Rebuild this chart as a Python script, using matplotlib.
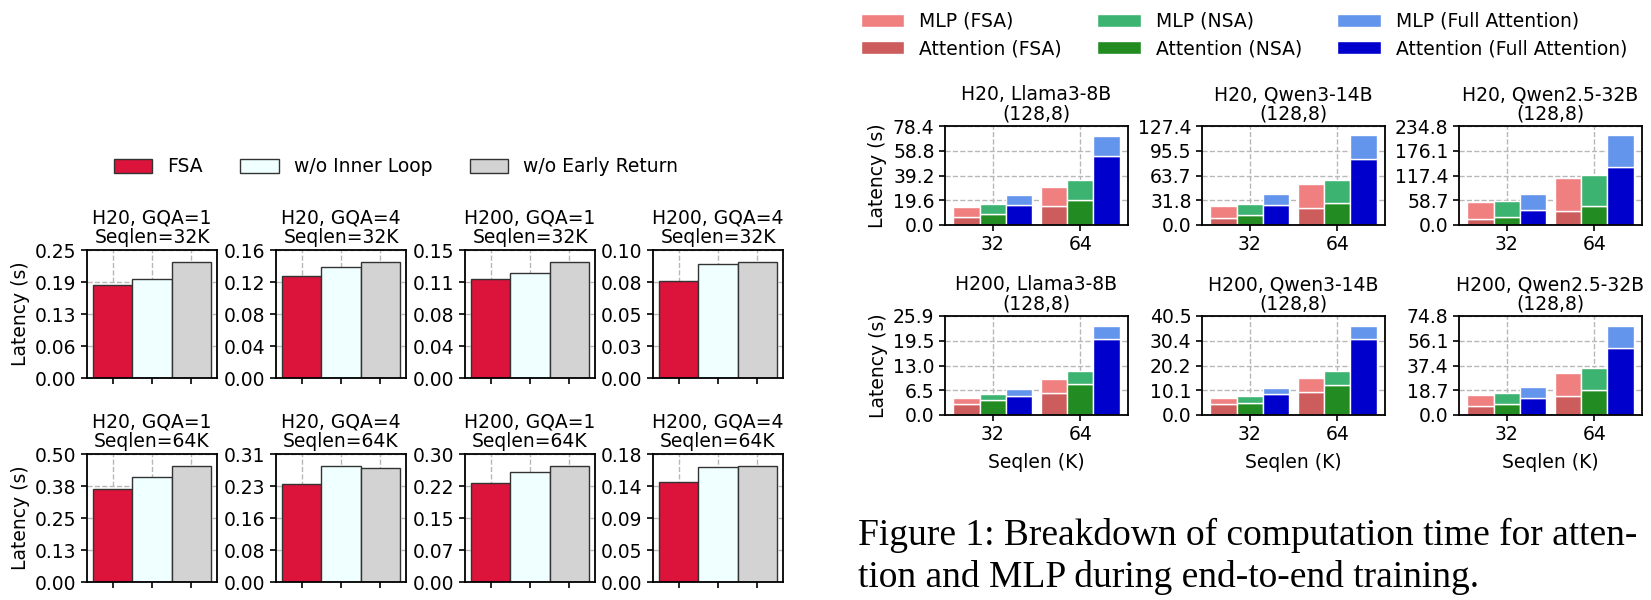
import numpy as np
import matplotlib
matplotlib.use("Agg")
import matplotlib.pyplot as plt
from matplotlib.patches import Patch

plt.rcParams["font.family"] = ["DejaVu Sans"]
plt.rcParams["axes.linewidth"] = 1.3

FS = 13.5

# ---------------- left panel: ablation (latency in s) ----------------
abl_labels = ["FSA", "w/o Inner Loop", "w/o Early Return"]
abl_colors = ["#DC143C", "#F0FFFF", "#D3D3D3"]
abl_titles = ["H20, GQA=1\nSeqlen=32K", "H20, GQA=4\nSeqlen=32K",
              "H200, GQA=1\nSeqlen=32K", "H200, GQA=4\nSeqlen=32K",
              "H20, GQA=1\nSeqlen=64K", "H20, GQA=4\nSeqlen=64K",
              "H200, GQA=1\nSeqlen=64K", "H200, GQA=4\nSeqlen=64K"]
abl_fsa = [0.183, 0.128, 0.1177, 0.0765, 0.365, 0.239, 0.230, 0.1413]
abl_inner = [0.194, 0.1396, 0.1248, 0.0896, 0.410, 0.283, 0.2545, 0.1635]
abl_early = [0.228, 0.146, 0.138, 0.0915, 0.456, 0.278, 0.270, 0.165]

# ---------------- right panel: end-to-end breakdown ----------------
e2e_titles = ["H20, Llama3-8B\n(128,8)", "H20, Qwen3-14B\n(128,8)",
              "H20, Qwen2.5-32B\n(128,8)", "H200, Llama3-8B\n(128,8)",
              "H200, Qwen3-14B\n(128,8)", "H200, Qwen2.5-32B\n(128,8)"]
seqlens = ["32", "64"]
methods = ["FSA", "NSA", "Full Attention"]
mlp_colors = ["#F08080", "#3CB371", "#6495ED"]
attn_colors = ["#CD5C5C", "#228B22", "#0000CD"]
# per subplot, per method: [32K, 64K]
attn_fsa = [[6.3, 14.7], [9.0, 22.2], [13.4, 33.9], [2.85, 5.8], [4.3, 9.6], [6.5, 14.7]]
attn_nsa = [[8.7, 19.7], [12.4, 28.2], [19.7, 44.1], [3.8, 8.2], [5.0, 12.1], [8.0, 18.95]]
attn_full = [[16.0, 55.0], [25.6, 85.1], [36.2, 137.9], [5.0, 19.9], [8.4, 31.0], [13.0, 50.4]]
mlp_fsa = [[7.6, 15.6], [15.8, 30.4], [40.2, 77.2], [1.7, 3.55], [2.55, 5.5], [8.5, 17.2]]
mlp_nsa = [[7.6, 16.1], [15.0, 29.9], [37.8, 74.9], [1.65, 3.45], [2.85, 5.7], [8.5, 16.75]]
mlp_full = [[7.9, 15.8], [14.6, 30.3], [37.9, 74.8], [1.7, 3.4], [2.55, 5.4], [8.4, 16.9]]
e2e_top = [78.4, 127.38, 234.8, 25.94, 40.48, 74.8]

W, H = 1651, 600
fig = plt.figure(figsize=(W / 100, H / 100), dpi=100)


def px_axes(x0, ytop, w, h):
    return fig.add_axes([x0 / W, 1 - (ytop + h) / H, w / W, h / H])


def style_grid(ax):
    ax.set_axisbelow(True)
    ax.grid(True, linestyle="--", color="#b8b8b8", linewidth=1.0)


# left panel
col_x = [87, 276, 465, 653]
row_y = [250, 454]
for i in range(8):
    ax = px_axes(col_x[i % 4], row_y[i // 4], 130, 128)
    vals = [abl_fsa[i], abl_inner[i], abl_early[i]]
    ax.bar(np.arange(3), vals, width=1.0, color=abl_colors,
           edgecolor="#333333", linewidth=1.0)
    top = max(vals) * 1.1
    ax.set_ylim(0, top)
    ticks = np.linspace(0, top, 5)
    ax.set_yticks(ticks)
    ax.set_yticklabels(["%.2f" % t for t in ticks])
    ax.set_xticks(np.arange(3))
    ax.set_xticklabels([])
    ax.tick_params(labelsize=FS, length=4, width=1.2)
    style_grid(ax)
    ax.set_title(abl_titles[i], fontsize=FS, linespacing=1.05, pad=5)
    if i % 4 == 0:
        ax.set_ylabel("Latency (s)", fontsize=FS)

handles = [Patch(facecolor=c, edgecolor="#333333", label=l)
           for c, l in zip(abl_colors, abl_labels)]
fig.legend(handles=handles, loc="center", bbox_to_anchor=(396 / W, 1 - 167 / H),
           ncol=3, frameon=False, fontsize=FS, handlelength=2.05,
           handletextpad=0.8, columnspacing=2.0)

# right panel
rcol_x = [945, 1202, 1459]
rrow_y = [126, 316]
attn_all = [attn_fsa, attn_nsa, attn_full]
mlp_all = [mlp_fsa, mlp_nsa, mlp_full]
x = np.arange(len(seqlens))
bw = 0.3
for i in range(6):
    ax = px_axes(rcol_x[i % 3], rrow_y[i // 3], 183, 99)
    for m in range(3):
        a = attn_all[m][i]
        b = mlp_all[m][i]
        pos = x + (m - 1) * bw
        ax.bar(pos, a, width=bw, color=attn_colors[m], edgecolor="white",
               linewidth=1.0)
        ax.bar(pos, b, bottom=a, width=bw, color=mlp_colors[m],
               edgecolor="white", linewidth=1.0)
    top = e2e_top[i]
    ax.set_ylim(0, top)
    ticks = np.linspace(0, top, 5)
    ax.set_yticks(ticks)
    ax.set_yticklabels(["%.1f" % t for t in ticks])
    ax.set_xticks(x)
    ax.set_xticklabels(seqlens)
    ax.tick_params(labelsize=FS, length=4, width=1.2)
    style_grid(ax)
    ax.set_title(e2e_titles[i], fontsize=FS, linespacing=1.0, pad=5)
    if i % 3 == 0:
        ax.set_ylabel("Latency (s)", fontsize=FS)
    if i >= 3:
        ax.set_xlabel("Seqlen (K)", fontsize=FS, labelpad=6)

rhandles = []
for m in range(3):
    rhandles.append(Patch(facecolor=mlp_colors[m], edgecolor="white",
                          label="MLP (%s)" % methods[m]))
    rhandles.append(Patch(facecolor=attn_colors[m], edgecolor="white",
                          label="Attention (%s)" % methods[m]))
fig.legend(handles=rhandles, loc="center", bbox_to_anchor=(1244 / W, 1 - 35 / H),
           ncol=3, frameon=False, fontsize=FS, handlelength=2.3,
           handletextpad=0.8, columnspacing=1.9, labelspacing=0.45)

# caption
cap_font = ["Liberation Serif", "DejaVu Serif"]
fig.text(858 / W, 1 - 545 / H, "Figure 1: Breakdown of computation time for atten-",
         family=cap_font, fontsize=27, ha="left", va="baseline")
fig.text(858 / W, 1 - 587 / H, "tion and MLP during end-to-end training.",
         family=cap_font, fontsize=27, ha="left", va="baseline")

fig.savefig("out.png", dpi=100)
